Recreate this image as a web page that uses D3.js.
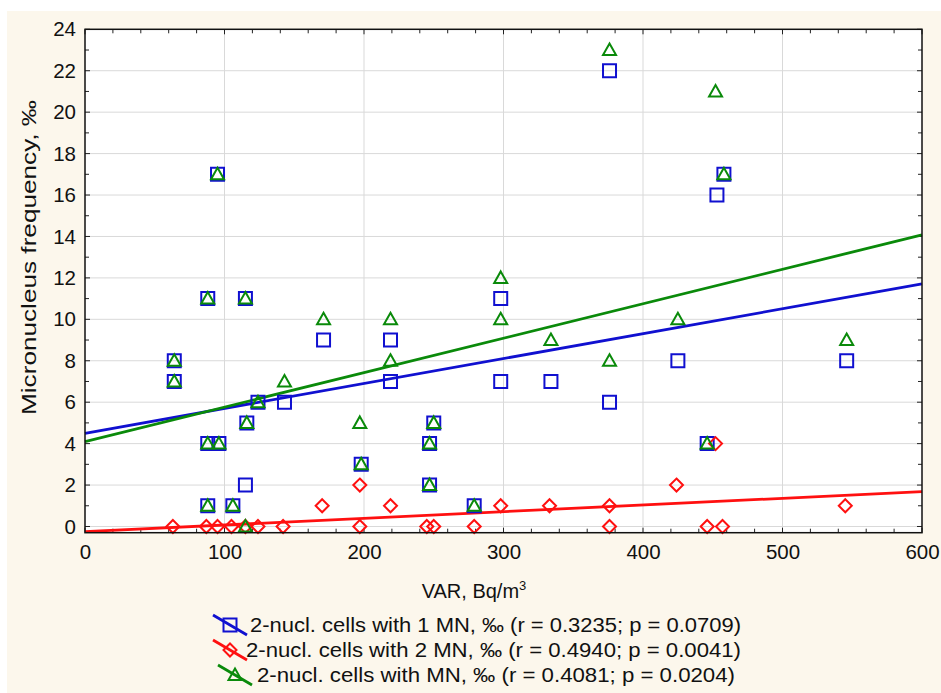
<!DOCTYPE html>
<html>
<head>
<meta charset="utf-8">
<script src="https://cdn.jsdelivr.net/npm/d3@7"></script>
<style>
  body { margin: 0; background: #ffffff; }
  text { font-family: Arial, "Liberation Sans", sans-serif; fill: #111; }
</style>
</head>
<body>
<div id="chart"></div>
<script>
// data: VAR (Bq/m3) and micronucleus frequency
var oneMnX = [64, 64, 88, 88, 88, 95, 96, 106, 115, 115, 116, 124, 143, 171, 198, 219, 219, 247, 247, 250, 279, 298, 298, 334, 376, 376, 425, 446, 453, 458, 546];
var oneMnY = [8, 7, 11, 4, 1, 17, 4, 1, 11, 2, 5, 6, 6, 9, 3, 9, 7, 4, 2, 5, 1, 11, 7, 7, 22, 6, 8, 4, 16, 17, 8];

var twoMnX = [63, 87, 95, 105, 115, 124, 142, 170, 197, 197, 219, 245, 250, 279, 298, 333, 376, 376, 424, 446, 452, 457, 545];
var twoMnY = [0, 0, 0, 0, 0, 0, 0, 1, 2, 0, 1, 0, 0, 0, 1, 1, 1, 0, 2, 0, 4, 0, 1];

var allMnX = [64, 64, 88, 88, 88, 95, 96, 106, 115, 115, 116, 124, 143, 171, 197, 198, 219, 219, 247, 247, 250, 279, 298, 298, 334, 376, 376, 425, 446, 452, 458, 546];
var allMnY = [8, 7, 11, 4, 1, 17, 4, 1, 11, 0, 5, 6, 7, 10, 5, 3, 10, 8, 4, 2, 5, 1, 12, 10, 9, 23, 8, 10, 4, 21, 17, 9];

// fitted regression lines (intercept, slope) as drawn in the picture
var fitIntercept = [4.5, -0.25, 4.1];
var fitSlope = [0.01202, 0.00322, 0.01663];

var seriesNames = [
  "2-nucl. cells with 1 MN, \u2030 (r = 0.3235; p = 0.0709)",
  "2-nucl. cells with 2 MN, \u2030 (r = 0.4940; p = 0.0041)",
  "2-nucl. cells with MN, \u2030 (r = 0.4081; p = 0.0204)"
];
var seriesColors = ["#1010d0", "#ff1010", "#0a8a0a"];

var xTicks = [0, 100, 200, 300, 400, 500, 600];
var yTicks = [0, 2, 4, 6, 8, 10, 12, 14, 16, 18, 20, 22, 24];

var svgWidth = 941;
var svgHeight = 693;

var margin = { top: 29.3, right: 19, bottom: 160.3, left: 85 };
var width = svgWidth - margin.left - margin.right;
var height = svgHeight - margin.top - margin.bottom;

var svg = d3.select("#chart")
  .append("svg")
  .attr("width", svgWidth)
  .attr("height", svgHeight);

// beige panel behind everything
svg.append("rect")
  .attr("x", 7)
  .attr("y", 11)
  .attr("width", svgWidth - 7)
  .attr("height", svgHeight - 11)
  .attr("fill", "#fcf7ec");

var chartGroup = svg.append("g")
  .attr("transform", `translate(${margin.left}, ${margin.top})`);

var xScale = d3.scaleLinear().domain([0, 600]).range([0, width]);
var yScale = d3.scaleLinear().domain([-0.3, 24]).range([height, 0]);

chartGroup.append("rect")
  .attr("width", width)
  .attr("height", height)
  .attr("fill", "#ffffff");

// grid lines
chartGroup.append("g")
  .selectAll("line")
  .data(xTicks.slice(1, -1))
  .enter()
  .append("line")
  .attr("x1", d => xScale(d))
  .attr("x2", d => xScale(d))
  .attr("y1", 0)
  .attr("y2", height)
  .attr("stroke", "#d9d9d9")
  .attr("stroke-width", 1);

chartGroup.append("g")
  .selectAll("line")
  .data(yTicks.slice(0, -1))
  .enter()
  .append("line")
  .attr("x1", 0)
  .attr("x2", width)
  .attr("y1", d => yScale(d))
  .attr("y2", d => yScale(d))
  .attr("stroke", "#d9d9d9")
  .attr("stroke-width", 1);

// axes: labels on left/bottom, inward ticks on all four sides
var xMinor = d3.range(0, 601, 20);
var yMinor = d3.range(0, 25, 1);

var bottomAxis = d3.axisBottom(xScale).tickValues(xTicks).tickSize(0).tickPadding(12);
var leftAxis = d3.axisLeft(yScale).tickValues(yTicks).tickSize(0).tickPadding(9);

var xAxis = chartGroup.append("g")
  .attr("transform", `translate(0, ${height})`)
  .call(bottomAxis);

var yAxis = chartGroup.append("g")
  .call(leftAxis);

[xAxis, yAxis].forEach(function(ax) {
  ax.select(".domain").remove();
  ax.selectAll("text")
    .style("font-size", "20.5px")
    .attr("fill", "#111");
});

var tickGroup = chartGroup.append("g")
  .attr("stroke", "#222")
  .attr("stroke-width", 1);

xMinor.forEach(function(v) {
  var len = v % 100 === 0 ? 5 : 4;
  tickGroup.append("line")
    .attr("x1", xScale(v)).attr("x2", xScale(v))
    .attr("y1", 0).attr("y2", len);
  tickGroup.append("line")
    .attr("x1", xScale(v)).attr("x2", xScale(v))
    .attr("y1", height).attr("y2", height - len);
});

yMinor.forEach(function(v) {
  var len = v % 2 === 0 ? 5 : 4;
  tickGroup.append("line")
    .attr("x1", 0).attr("x2", len)
    .attr("y1", yScale(v)).attr("y2", yScale(v));
  tickGroup.append("line")
    .attr("x1", width).attr("x2", width - len)
    .attr("y1", yScale(v)).attr("y2", yScale(v));
});

// regression lines
var fitLine = d3.line()
  .x(d => xScale(d[0]))
  .y(d => yScale(d[1]));

fitIntercept.forEach(function(b, i) {
  var pts = [0, 600].map(x => [x, b + fitSlope[i] * x]);
  chartGroup.append("path")
    .datum(pts)
    .attr("d", fitLine)
    .attr("fill", "none")
    .attr("stroke", seriesColors[i])
    .attr("stroke-width", 2.8);
});

// marker shapes
var markerPaths = [
  "M-6.5,-6.5h13v13h-13z",
  "M0,-6.5L6.5,0L0,6.5L-6.5,0Z",
  "M0,-6.5L6.5,5L-6.5,5Z"
];

var seriesX = [oneMnX, twoMnX, allMnX];
var seriesY = [oneMnY, twoMnY, allMnY];

seriesX.forEach(function(xs, i) {
  chartGroup.append("g")
    .selectAll("path")
    .data(xs.map((x, j) => [x, seriesY[i][j]]))
    .enter()
    .append("path")
    .attr("transform", d => `translate(${xScale(d[0])}, ${yScale(d[1])})`)
    .attr("d", markerPaths[i])
    .attr("fill", "none")
    .attr("stroke", seriesColors[i])
    .attr("stroke-width", 2);
});

// frame
chartGroup.append("rect")
  .attr("width", width)
  .attr("height", height)
  .attr("fill", "none")
  .attr("stroke", "#111")
  .attr("stroke-width", 1.5);

// axis titles
var xTitle = svg.append("text")
  .attr("x", 474)
  .attr("y", 598)
  .attr("text-anchor", "middle")
  .style("font-size", "20px");
xTitle.append("tspan").text("VAR, Bq/m");
xTitle.append("tspan")
  .attr("dy", -8)
  .style("font-size", "13px")
  .text("3");

svg.append("text")
  .attr("transform", "translate(36, 415) rotate(-90)")
  .attr("textLength", 315)
  .attr("lengthAdjust", "spacingAndGlyphs")
  .style("font-size", "21px")
  .text("Micronucleus frequency, \u2030");

// legend
var legendY = [625, 650, 675];
var legendTextX = [250, 246, 257];
var legendTextEnd = [741, 741, 735];
var legend = svg.append("g");

seriesNames.forEach(function(name, i) {
  var cy = legendY[i];
  var cx = i === 2 ? 235 : 230;
  legend.append("line")
    .attr("x1", cx - 17).attr("x2", cx + 17)
    .attr("y1", cy - 10).attr("y2", cy + 10)
    .attr("stroke", seriesColors[i])
    .attr("stroke-width", 2.8);
  legend.append("path")
    .attr("transform", `translate(${cx}, ${cy})`)
    .attr("d", markerPaths[i])
    .attr("fill", "none")
    .attr("stroke", seriesColors[i])
    .attr("stroke-width", 2);
  legend.append("text")
    .attr("x", legendTextX[i])
    .attr("y", cy + 7)
    .attr("textLength", legendTextEnd[i] - legendTextX[i])
    .attr("lengthAdjust", "spacingAndGlyphs")
    .style("font-size", "20px")
    .text(name);
});
</script>
</body>
</html>
